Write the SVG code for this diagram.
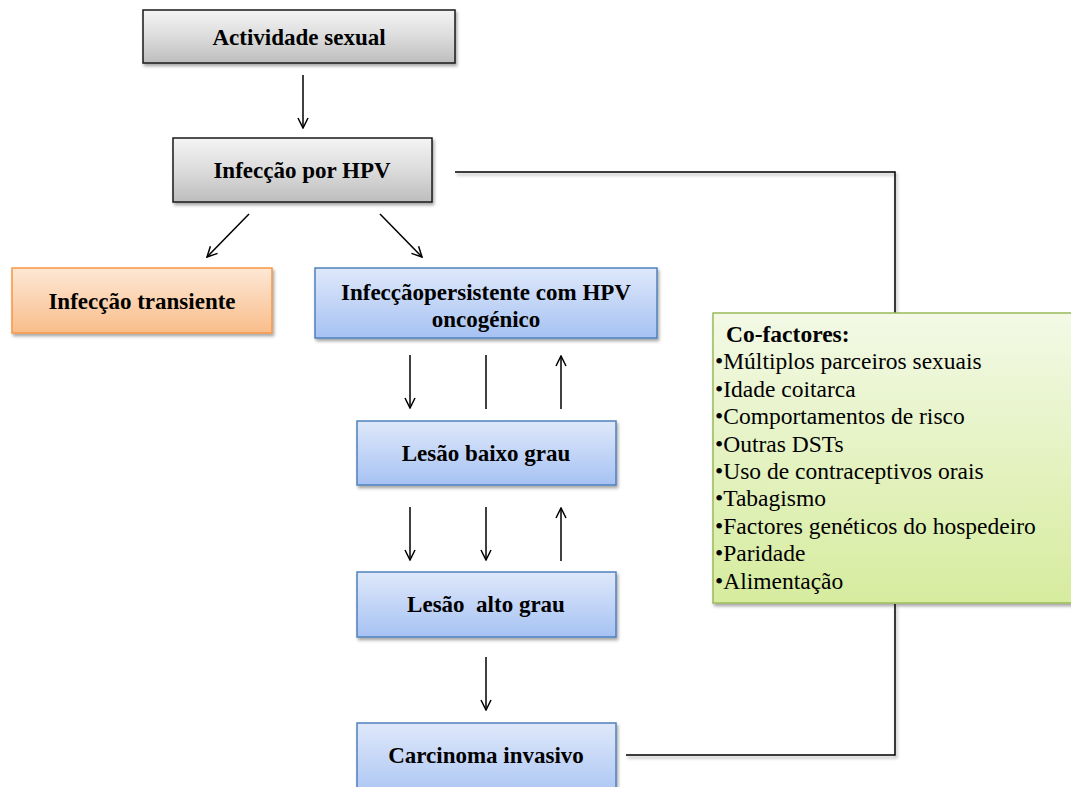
<svg xmlns="http://www.w3.org/2000/svg" width="1071" height="787" viewBox="0 0 1071 787">
<defs>
<linearGradient id="gGray" x1="0" y1="0" x2="0" y2="1">
<stop offset="0" stop-color="#f4f4f4"/><stop offset="0.5" stop-color="#dcdcdc"/><stop offset="1" stop-color="#bdbdbd"/>
</linearGradient>
<linearGradient id="gOrange" x1="0" y1="0" x2="0" y2="1">
<stop offset="0" stop-color="#fde8d6"/><stop offset="1" stop-color="#f9bd8a"/>
</linearGradient>
<linearGradient id="gBlue" x1="0" y1="0" x2="0" y2="1">
<stop offset="0" stop-color="#dfe8fa"/><stop offset="1" stop-color="#a6c2f3"/>
</linearGradient>
<linearGradient id="gGreen" x1="0" y1="0" x2="0" y2="1">
<stop offset="0" stop-color="#f3f9e6"/><stop offset="1" stop-color="#d6ec9e"/>
</linearGradient>
<filter id="sh" x="-10%" y="-10%" width="120%" height="130%">
<feDropShadow dx="1.5" dy="2.5" stdDeviation="1.5" flood-color="#000" flood-opacity="0.35"/>
</filter>
<marker id="ah" viewBox="0 0 12 12" refX="11" refY="6" markerWidth="12" markerHeight="12" markerUnits="userSpaceOnUse" orient="auto">
<path d="M1,1 L11,6 L1,11" fill="none" stroke="#000" stroke-width="1.5"/>
</marker>
<style>
.lbl{font-family:"Liberation Serif","Times New Roman",serif;font-weight:bold;font-size:23px;fill:#000;text-anchor:middle}
.co{font-family:"Liberation Serif","Times New Roman",serif;font-size:23.5px;fill:#000}
.arr{stroke:#000;stroke-width:1.5;fill:none;marker-end:url(#ah)}
.ln{stroke:#000;stroke-width:1.5;fill:none}
.gray{fill:url(#gGray);stroke:#1a1a1a;stroke-width:1.5}
.orange{fill:url(#gOrange);stroke:#f79646;stroke-width:1.5}
.blue{fill:url(#gBlue);stroke:#4f81bd;stroke-width:1.5}
.green{fill:url(#gGreen);stroke:#9bbb59;stroke-width:1.5}
</style>
</defs>
<rect width="1071" height="787" fill="#fff"/>
<g id="connectors">
<line class="arr" x1="303" y1="75" x2="303" y2="128"/>
<line class="arr" x1="249" y1="214" x2="207" y2="257"/>
<line class="arr" x1="380" y1="214" x2="422" y2="257"/>
<line class="arr" x1="410" y1="355" x2="410" y2="408"/>
<line class="ln" x1="486" y1="355" x2="486" y2="409"/>
<line class="arr" x1="561" y1="409" x2="561" y2="356"/>
<line class="arr" x1="410" y1="507" x2="410" y2="560"/>
<line class="arr" x1="486" y1="507" x2="486" y2="560"/>
<line class="arr" x1="561" y1="561" x2="561" y2="508"/>
<line class="arr" x1="486" y1="657" x2="486" y2="710"/>
<g filter="url(#sh)">
<polyline class="ln" points="455,172 895,172 895,313"/>
<polyline class="ln" points="895,604 895,755 626,755"/>
</g>
</g>
<g id="n-actividade">
<rect class="gray" x="143" y="10" width="312" height="53" filter="url(#sh)"/>
<text class="lbl" x="299" y="45">Actividade sexual</text>
</g>
<g id="n-infeccao-hpv">
<rect class="gray" x="173" y="138" width="259" height="64" filter="url(#sh)"/>
<text class="lbl" x="302" y="178">Infecção por HPV</text>
</g>
<g id="n-transiente">
<rect class="orange" x="12" y="268" width="260" height="65" filter="url(#sh)"/>
<text class="lbl" x="142" y="309">Infecção transiente</text>
</g>
<g id="n-persistente">
<rect class="blue" x="315" y="268" width="342" height="70" filter="url(#sh)"/>
<text class="lbl" x="486" y="300">Infecçãopersistente com HPV</text>
<text class="lbl" x="486" y="327">oncogénico</text>
</g>
<g id="n-baixo">
<rect class="blue" x="357" y="421" width="259" height="64" filter="url(#sh)"/>
<text class="lbl" x="486" y="461">Lesão baixo grau</text>
</g>
<g id="n-alto">
<rect class="blue" x="357" y="572" width="259" height="65" filter="url(#sh)"/>
<text class="lbl" x="486" y="612" xml:space="preserve">Lesão  alto grau</text>
</g>
<g id="n-carcinoma">
<rect class="blue" x="357" y="723" width="259" height="80" filter="url(#sh)"/>
<text class="lbl" x="486" y="763">Carcinoma invasivo</text>
</g>
<g id="n-cofactores">
<rect class="green" x="713" y="313" width="370" height="290" filter="url(#sh)"/>
<text class="co" x="726" y="342" font-weight="bold">Co-factores:</text>
<text class="co" x="715" y="369">•Múltiplos parceiros sexuais</text>
<text class="co" x="715" y="397">•Idade coitarca</text>
<text class="co" x="715" y="424">•Comportamentos de risco</text>
<text class="co" x="715" y="452">•Outras DSTs</text>
<text class="co" x="715" y="479">•Uso de contraceptivos orais</text>
<text class="co" x="715" y="506">•Tabagismo</text>
<text class="co" x="715" y="534">•Factores genéticos do hospedeiro</text>
<text class="co" x="715" y="561">•Paridade</text>
<text class="co" x="715" y="589">•Alimentação</text>
</g>
</svg>
